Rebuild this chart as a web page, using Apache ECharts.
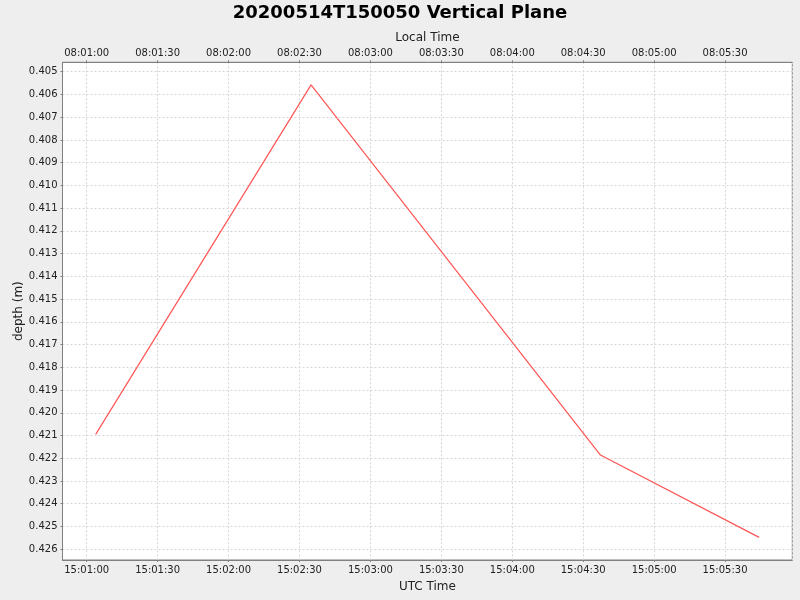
<!DOCTYPE html>
<html>
<head>
<meta charset="utf-8">
<script src="https://cdn.jsdelivr.net/npm/echarts@6/dist/echarts.min.js"></script>
<style>
	html, body { margin: 0; padding: 0; background: #eeeeee; }
	#chart { width: 800px; height: 600px; }
</style>
</head>
<body>
<div id="chart"></div>
<script>
//数据 (UTC 时间, 深度)
var utcTimes = ['15:01:03.8', '15:02:34.9', '15:04:37.3', '15:05:44.4'];
var depths = [0.42095, 0.40558, 0.42186, 0.42548];
var utcBaseHour = 15;
var localBaseHour = 8;

//把时间字符串换成 15:00:00 之后的秒数
function toSeconds(str){
	var p = str.split(':');
	return (parseInt(p[0]) - utcBaseHour) * 3600 + parseInt(p[1]) * 60 + parseFloat(p[2]);
}
function pad(n){
	return (n < 10 ? '0' : '') + n;
}
function fmtTime(sec, baseHour){
	var s = Math.round(sec);
	var h = baseHour + Math.floor(s / 3600);
	var m = Math.floor((s % 3600) / 60);
	return pad(h) + ':' + pad(m) + ':' + pad(s % 60);
}

var seriesData = [];
for (var i = 0; i < utcTimes.length; i++) {
	seriesData.push([toSeconds(utcTimes[i]), depths[i]]);
}

//坐标轴范围: 数据两边各留 5%
var xs = seriesData.map(function(d){ return d[0]; });
var xMinD = Math.min.apply(null, xs), xMaxD = Math.max.apply(null, xs);
var xMin = xMinD - (xMaxD - xMinD) * 0.05;
var xMax = xMaxD + (xMaxD - xMinD) * 0.05;
var yMinD = Math.min.apply(null, depths), yMaxD = Math.max.apply(null, depths);
var yMin = yMinD - (yMaxD - yMinD) * 0.05;
var yMax = yMaxD + (yMaxD - yMinD) * 0.05;

var FONT = 'DejaVu Sans';
var gridLine = { show: true, lineStyle: { color: '#d6d6d6', type: [2, 2], width: 1 } };
var axisLine = { show: true, lineStyle: { color: '#808080', width: 1 } };
var tick = { show: true, length: 2, lineStyle: { color: '#808080' } };

var myChart = echarts.init(document.getElementById('chart'));
myChart.setOption({
	backgroundColor: '#eeeeee',
	animation: false,
	title: {
		text: '20200514T150050 Vertical Plane',
		left: 'center',
		top: -1,
		textStyle: { fontFamily: FONT, fontSize: 18, fontWeight: 'bold', color: '#000' }
	},
	grid: {
		left: 62.5, right: 7.7, top: 62.3, bottom: 40,
		show: true, backgroundColor: '#ffffff', borderColor: '#808080', borderWidth: 1
	},
	xAxis: [ {
		type: 'value',
		position: 'bottom',
		min: xMin, max: xMax,
		minInterval: 30, maxInterval: 30,
		name: 'UTC Time',
		nameLocation: 'middle',
		nameGap: 21,
		nameTextStyle: { fontFamily: FONT, fontSize: 12, color: '#222' },
		axisLine: axisLine,
		axisTick: tick,
		splitLine: gridLine,
		axisLabel: {
			showMinLabel: false, showMaxLabel: false,
			margin: 5,
			fontFamily: FONT, fontSize: 10, color: '#222',
			formatter: function(v){ return fmtTime(v, utcBaseHour); }
		}
	}, {
		type: 'value',
		position: 'top',
		min: xMin, max: xMax,
		minInterval: 30, maxInterval: 30,
		name: 'Local Time',
		nameLocation: 'middle',
		nameGap: 18,
		nameTextStyle: { fontFamily: FONT, fontSize: 12, color: '#222' },
		axisLine: axisLine,
		axisTick: tick,
		splitLine: { show: false },
		axisLabel: {
			showMinLabel: false, showMaxLabel: false,
			margin: 4,
			fontFamily: FONT, fontSize: 10, color: '#222',
			formatter: function(v){ return fmtTime(v, localBaseHour); }
		}
	} ],
	yAxis: {
		type: 'value',
		inverse: true,
		min: yMin, max: yMax,
		minInterval: 0.001, maxInterval: 0.001,
		name: 'depth (m)',
		nameLocation: 'middle',
		nameGap: 38,
		nameMoveOverlap: false,
		nameTextStyle: { fontFamily: FONT, fontSize: 12, color: '#222' },
		axisLine: axisLine,
		axisTick: tick,
		splitLine: gridLine,
		axisLabel: {
			showMinLabel: false, showMaxLabel: false,
			margin: 5,
			fontFamily: FONT, fontSize: 10, color: '#222',
			formatter: function(v){ return v.toFixed(3); }
		}
	},
	series: [ {
		type: 'line',
		xAxisIndex: 0,
		data: seriesData,
		showSymbol: false,
		lineStyle: { color: '#ff5555', width: 1.2 },
		itemStyle: { color: '#ff5555' }
	} ]
});
</script>
</body>
</html>
